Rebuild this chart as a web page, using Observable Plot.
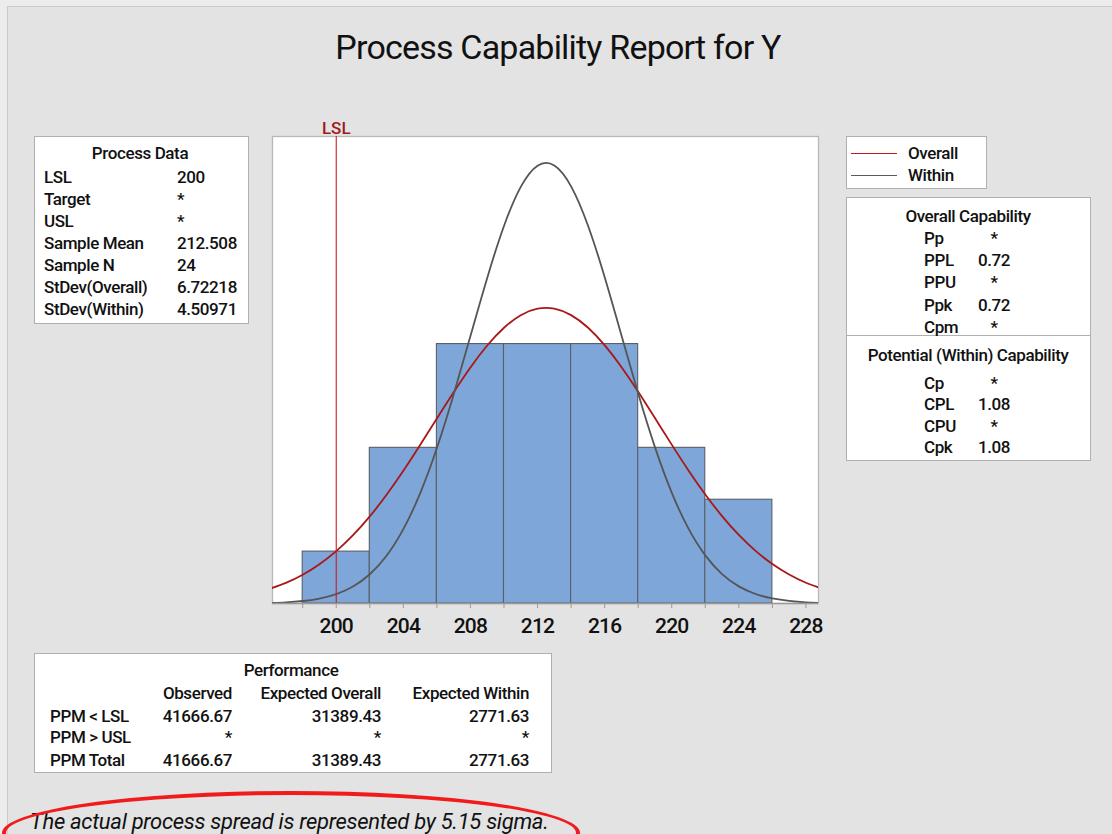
<!DOCTYPE html>
<html>
<head>
<meta charset="utf-8">
<script src="https://cdn.jsdelivr.net/npm/d3@7"></script>
<script src="https://cdn.jsdelivr.net/npm/@observablehq/plot@0.6"></script>
<style>
  html, body { margin: 0; padding: 0; background: #ececec; }
  #page { position: relative; width: 1112px; height: 834px; overflow: hidden; background: #ececec; font-family: Roboto, "Noto Sans", sans-serif; color: #111; }
  #panel { position: absolute; left: 7px; top: 6px; width: 1110px; height: 840px; background: #e3e3e3; border-left: 1.5px solid #c9c9c9; border-top: 1.5px solid #c9c9c9; }
  .box { position: absolute; background: #fff; border: 1.3px solid #b0b0b0; box-sizing: border-box; }
  .t { position: absolute; white-space: nowrap; font-size: 17px; line-height: 20px; font-weight: 500; letter-spacing: -0.4px; }
  #chart { position: absolute; left: 0; top: 0; }
  #ellipse { position: absolute; left: 2px; top: 791px; width: 578px; height: 84px; border: 4.5px solid #f21b1b; border-radius: 50%; box-sizing: border-box; }
</style>
</head>
<body>
<div id="page">
  <div id="panel"></div>
  <div id="chart"></div>
</div>
<script>
// ---------------- data ----------------
const title = "Process Capability Report for Y";
const footnote = "The actual process spread is represented by 5.15 sigma.";
const lsl = 200;

// histogram bins (lower edges, upper edges, counts)
const binLo = [198, 202, 206, 210, 214, 218, 222];
const binHi = [202, 206, 210, 214, 218, 222, 226];
const binCount = [1, 3, 5, 5, 5, 3, 2];

// fitted curves (in count units)
const curveX = [196, 197, 198, 199, 200, 201, 202, 203, 204, 205, 206, 207, 208, 209, 210, 211, 212, 213, 214, 215, 216, 217, 218, 219, 220, 221, 222, 223, 224, 225, 226, 227, 228, 229];
const overallY = [0.279, 0.398, 0.555, 0.757, 1.009, 1.316, 1.679, 2.095, 2.557, 3.054, 3.566, 4.072, 4.550, 4.972, 5.314, 5.556, 5.681, 5.682, 5.558, 5.319, 4.978, 4.557, 4.080, 3.574, 3.062, 2.565, 2.102, 1.685, 1.321, 1.013, 0.760, 0.558, 0.400, 0.281];
const withinY = [0.011, 0.023, 0.048, 0.096, 0.181, 0.327, 0.563, 0.920, 1.432, 2.124, 2.998, 4.028, 5.153, 6.275, 7.275, 8.030, 8.438, 8.442, 8.040, 7.290, 6.293, 5.171, 4.046, 3.013, 2.137, 1.442, 0.927, 0.567, 0.330, 0.183, 0.097, 0.049, 0.023, 0.011];

// x ticks
const tickMinor = d3.range(198, 229, 2);
const tickLabels = [200, 204, 208, 212, 216, 220, 224, 228];

// Process data table
const processLabels = ["LSL", "Target", "USL", "Sample Mean", "Sample N", "StDev(Overall)", "StDev(Within)"];
const processValues = ["200", "*", "*", "212.508", "24", "6.72218", "4.50971"];

// legend
const legendNames = ["Overall", "Within"];
const legendColors = ["#c01818", "#5a5a5a"];

// capability
const overallCapLabels = ["Pp", "PPL", "PPU", "Ppk", "Cpm"];
const overallCapValues = ["*", "0.72", "*", "0.72", "*"];
const withinCapLabels = ["Cp", "CPL", "CPU", "Cpk"];
const withinCapValues = ["*", "1.08", "*", "1.08"];

// performance
const perfColumns = ["Observed", "Expected Overall", "Expected Within"];
const perfRows = ["PPM < LSL", "PPM > USL", "PPM Total"];
const perfObserved = ["41666.67", "*", "41666.67"];
const perfExpOverall = ["31389.43", "*", "31389.43"];
const perfExpWithin = ["2771.63", "*", "2771.63"];

// ---------------- helpers ----------------
const page = document.getElementById("page");
function box(x, y, w, h) {
  const d = document.createElement("div");
  d.className = "box";
  Object.assign(d.style, {left: x + "px", top: y + "px", width: w + "px", height: h + "px"});
  page.appendChild(d);
  return d;
}
function text(str, x, cy, anchor = "start", extra = {}) {
  const d = document.createElement("div");
  d.className = "t";
  d.textContent = str;
  const fs = extra.fontSize || 17;
  d.style.fontSize = fs + "px";
  d.style.lineHeight = Math.round(fs * 1.2) + "px";
  d.style.top = (cy - fs * 0.6) + "px";
  if (anchor === "start") d.style.left = x + "px";
  else if (anchor === "end") { d.style.right = (1112 - x) + "px"; }
  else { d.style.left = x + "px"; d.style.transform = "translateX(-50%)"; }
  for (const k in extra) if (k !== "fontSize") d.style[k] = extra[k];
  page.appendChild(d);
  return d;
}

// ---------------- title ----------------
text(title, 558, 47, "middle", {fontSize: 34, fontWeight: 400, letterSpacing: "-0.8px"});

// ---------------- chart ----------------
const bins = binLo.map((lo, i) => ({lo, hi: binHi[i], count: binCount[i]}));
const overall = curveX.map((x, i) => ({x, y: overallY[i]}));
const within = curveX.map((x, i) => ({x, y: withinY[i]}));

const chart = Plot.plot({
  width: 1112,
  height: 660,
  marginLeft: 272,
  marginRight: 294,
  marginTop: 136,
  marginBottom: 57,
  x: {domain: [196.2, 228.75]},
  y: {domain: [0, 9.0], axis: null},
  style: {background: "transparent", fontFamily: "Roboto, 'Noto Sans', sans-serif", overflow: "visible"},
  marks: [
    Plot.frame({fill: "white", stroke: "#b8b8b8", strokeWidth: 1.3}),
    Plot.rectY(bins, {x1: "lo", x2: "hi", y: "count", fill: "#7ea6d8", stroke: "#5a5f66", strokeWidth: 1.1}),
    Plot.line(overall, {x: "x", y: "y", stroke: "#a81818", strokeWidth: 1.8, curve: "natural", clip: true}),
    Plot.line(within, {x: "x", y: "y", stroke: "#555555", strokeWidth: 1.8, curve: "natural", clip: true}),
    Plot.ruleX([lsl], {stroke: "#c42020", strokeWidth: 1.1}),
    Plot.text(["LSL"], {x: () => lsl, frameAnchor: "top", dy: -3, fill: "#9e1a1a", fontSize: 17, fontWeight: 500, lineAnchor: "bottom"}),
    Plot.ruleY([0], {stroke: "#9a9a9a", strokeWidth: 1.3}),
    Plot.axisX({ticks: tickMinor, tickSize: 5, stroke: "#9a9a9a", tickFormat: d => tickLabels.includes(d) ? String(d) : "", fontSize: 21, tickPadding: 10, color: "#111", fontWeight: 500, label: null})
  ]
});
chart.querySelectorAll("g[aria-label='x-axis tick label'] text").forEach(t => t.setAttribute("letter-spacing", "-0.8"));
document.getElementById("chart").appendChild(chart);

// ---------------- Process Data box ----------------
box(34, 136, 215, 188);
text("Process Data", 140, 153, "middle");
processLabels.forEach((l, i) => {
  const cy = 177 + i * 22;
  text(l, 44, cy);
  text(processValues[i], 177, cy);
});

// ---------------- legend ----------------
box(846, 136, 141, 53);
legendNames.forEach((n, i) => {
  const cy = 153 + i * 22;
  const ln = document.createElement("div");
  Object.assign(ln.style, {position: "absolute", left: "851px", top: cy + "px", width: "46px", height: "0px", borderTop: "1px solid " + legendColors[i]});
  page.appendChild(ln);
  text(n, 908, cy);
});

// ---------------- capability box ----------------
box(846, 197, 245, 264);
const div = document.createElement("div");
Object.assign(div.style, {position: "absolute", left: "846px", top: "335px", width: "245px", height: "1.3px", background: "#b0b0b0"});
page.appendChild(div);
text("Overall Capability", 968, 216, "middle");
overallCapLabels.forEach((l, i) => {
  const cy = 238 + i * 22.3;
  text(l, 924, cy);
  text(overallCapValues[i], 994, cy, "middle");
});
text("Potential (Within) Capability", 968, 355, "middle");
withinCapLabels.forEach((l, i) => {
  const cy = 383 + i * 21.5;
  text(l, 924, cy);
  text(withinCapValues[i], 994, cy, "middle");
});

// ---------------- performance box ----------------
box(34, 653, 518, 120);
text("Performance", 291, 670, "middle");
const colRight = [232, 381, 529];
perfColumns.forEach((c, j) => text(c, colRight[j], 693, "end"));
perfRows.forEach((r, i) => {
  const cy = [716, 737, 760][i];
  text(r, 50, cy);
  text(perfObserved[i], colRight[0], cy, "end");
  text(perfExpOverall[i], colRight[1], cy, "end");
  text(perfExpWithin[i], colRight[2], cy, "end");
});

// ---------------- footnote ----------------
text(footnote, 30, 822, "start", {fontSize: 22, fontStyle: "italic", fontWeight: 400, letterSpacing: "-0.3px"});
const el = document.createElement("div");
el.id = "ellipse";
page.appendChild(el);
</script>
</body>
</html>
